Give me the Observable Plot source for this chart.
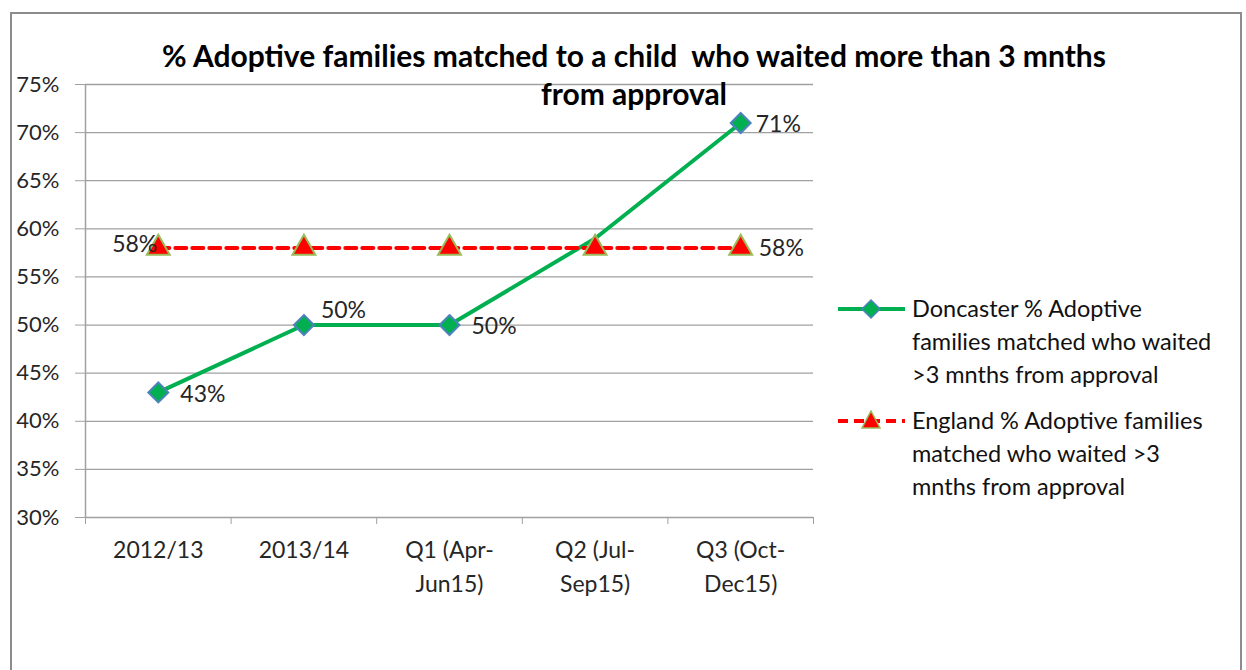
<!DOCTYPE html>
<html>
<head>
<meta charset="utf-8">
<script src="https://cdn.jsdelivr.net/npm/d3@7"></script>
<script src="https://cdn.jsdelivr.net/npm/@observablehq/plot@0.6"></script>
<style>
  html, body { margin: 0; padding: 0; background: #fff; }
  body { width: 1246px; height: 670px; position: relative; overflow: hidden; font-family: Lato, "Open Sans", sans-serif; }
  #frame { position: absolute; left: 10px; top: 12px; width: 1232px; height: 700px; border: 2px solid #8c8c8c; box-sizing: border-box; }
  #chart { position: absolute; left: 0; top: 0; }
  #title { position: absolute; left: 84px; width: 1100px; top: 36px; text-align: center; font-weight: bold; font-size: 30px; line-height: 38px; color: #000; white-space: pre; }
  #legend { position: absolute; left: 836px; top: 292px; font-size: 23.5px; line-height: 33px; color: #111; white-space: nowrap; }
  .item { position: relative; padding-left: 76px; }
  .item svg { position: absolute; left: 0; top: 6px; }
  .item + .item { margin-top: 13px; }
</style>
</head>
<body>
<div id="frame"></div>
<div id="chart"></div>
<div id="title">% Adoptive families matched to a child  who waited more than 3 mnths
from approval</div>
<div id="legend">
  <div class="item"><svg width="72" height="24"><line x1="2" y1="11" x2="69" y2="11" stroke="#00b050" stroke-width="4"/><path d="M35,2 L44,11 L35,20 L26,11 Z" fill="#00b050" stroke="#4f81bd" stroke-width="1.5"/></svg>Doncaster % Adoptive<br>families matched who waited<br>&gt;3 mnths from approval</div>
  <div class="item"><svg width="72" height="24"><line x1="2" y1="11" x2="69" y2="11" stroke="#ff0000" stroke-width="4" stroke-dasharray="10,6"/><path d="M35,1 L44,18 L26,18 Z" fill="#ff0000" stroke="#9bbb59" stroke-width="1.5"/></svg>England % Adoptive families<br>matched who waited &gt;3<br>mnths from approval</div>
</div>
<script>
const categories = ["2012/13", "2013/14", "Q1 (Apr-\nJun15)", "Q2 (Jul-\nSep15)", "Q3 (Oct-\nDec15)"];
const doncaster = [43, 50, 50, 59, 71];
const england = [58, 58, 58, 58, 58];
const yTicks = [30, 35, 40, 45, 50, 55, 60, 65, 70, 75];

const don = categories.map((c, i) => ({i, v: doncaster[i]}));
const eng = categories.map((c, i) => ({i, v: england[i]}));
const boundaries = d3.range(-0.5, categories.length, 1);

const txt = "#262626";
const grid = "#a0a0a0";
const lbl = {x: "i", y: "v", text: d => d.v + "%", fill: txt, fontSize: 23};

const chart = Plot.plot({
  width: 1246,
  height: 670,
  marginLeft: 85,
  marginRight: 433,
  marginTop: 84,
  marginBottom: 153,
  style: {fontFamily: "Lato, 'Open Sans', sans-serif", fontSize: "22px", color: txt, background: "transparent"},
  x: {type: "linear", domain: [-0.5, categories.length - 0.5]},
  y: {domain: [30, 75]},
  marks: [
    Plot.ruleY(yTicks.slice(1), {stroke: grid, strokeWidth: 1.3}),
    Plot.axisY({ticks: yTicks, tickFormat: d => d + "%", tickSize: 10, tickPadding: 16, stroke: grid, fill: txt, fontSize: 22, label: null}),
    Plot.ruleY([30], {stroke: grid, strokeWidth: 1.5}),
    Plot.ruleX([-0.5], {y1: 30, y2: 75, stroke: grid, strokeWidth: 1.5}),
    Plot.axisX({ticks: boundaries, tickSize: 7, tickFormat: () => "", stroke: grid, label: null}),
    Plot.axisX({ticks: d3.range(categories.length), tickSize: 0, tickPadding: 17, tickFormat: i => categories[i], lineHeight: 1.45, fill: txt, fontSize: 23, label: null}),
    Plot.line(don, {x: "i", y: "v", stroke: "#00b050", strokeWidth: 4}),
    Plot.line(eng, {x: "i", y: "v", stroke: "#ff0000", strokeWidth: 4, strokeDasharray: "11,6"}),
    Plot.dot(don.filter(d => d.i !== 3), {x: "i", y: "v", symbol: "diamond2", r: 9, fill: "#00b050", stroke: "#4f81bd", strokeWidth: 2}),
    Plot.dot(eng, {x: "i", y: "v", symbol: "triangle", r: 8.5, fill: "#ff0000", stroke: "#9bbb59", strokeWidth: 2}),
    Plot.text(don.filter(d => d.i === 0 || d.i === 2), {...lbl, textAnchor: "start", dx: 22, dy: 2}),
    Plot.text(don.filter(d => d.i === 4), {...lbl, textAnchor: "start", dx: 15, dy: 2}),
    Plot.text(don.filter(d => d.i === 1), {...lbl, textAnchor: "start", dx: 17, dy: -14}),
    Plot.text(eng.filter(d => d.i === 0), {...lbl, textAnchor: "end", dx: -1, dy: -3}),
    Plot.text(eng.filter(d => d.i === categories.length - 1), {...lbl, textAnchor: "start", dx: 18, dy: 1})
  ]
});
document.getElementById("chart").appendChild(chart);
</script>
</body>
</html>
